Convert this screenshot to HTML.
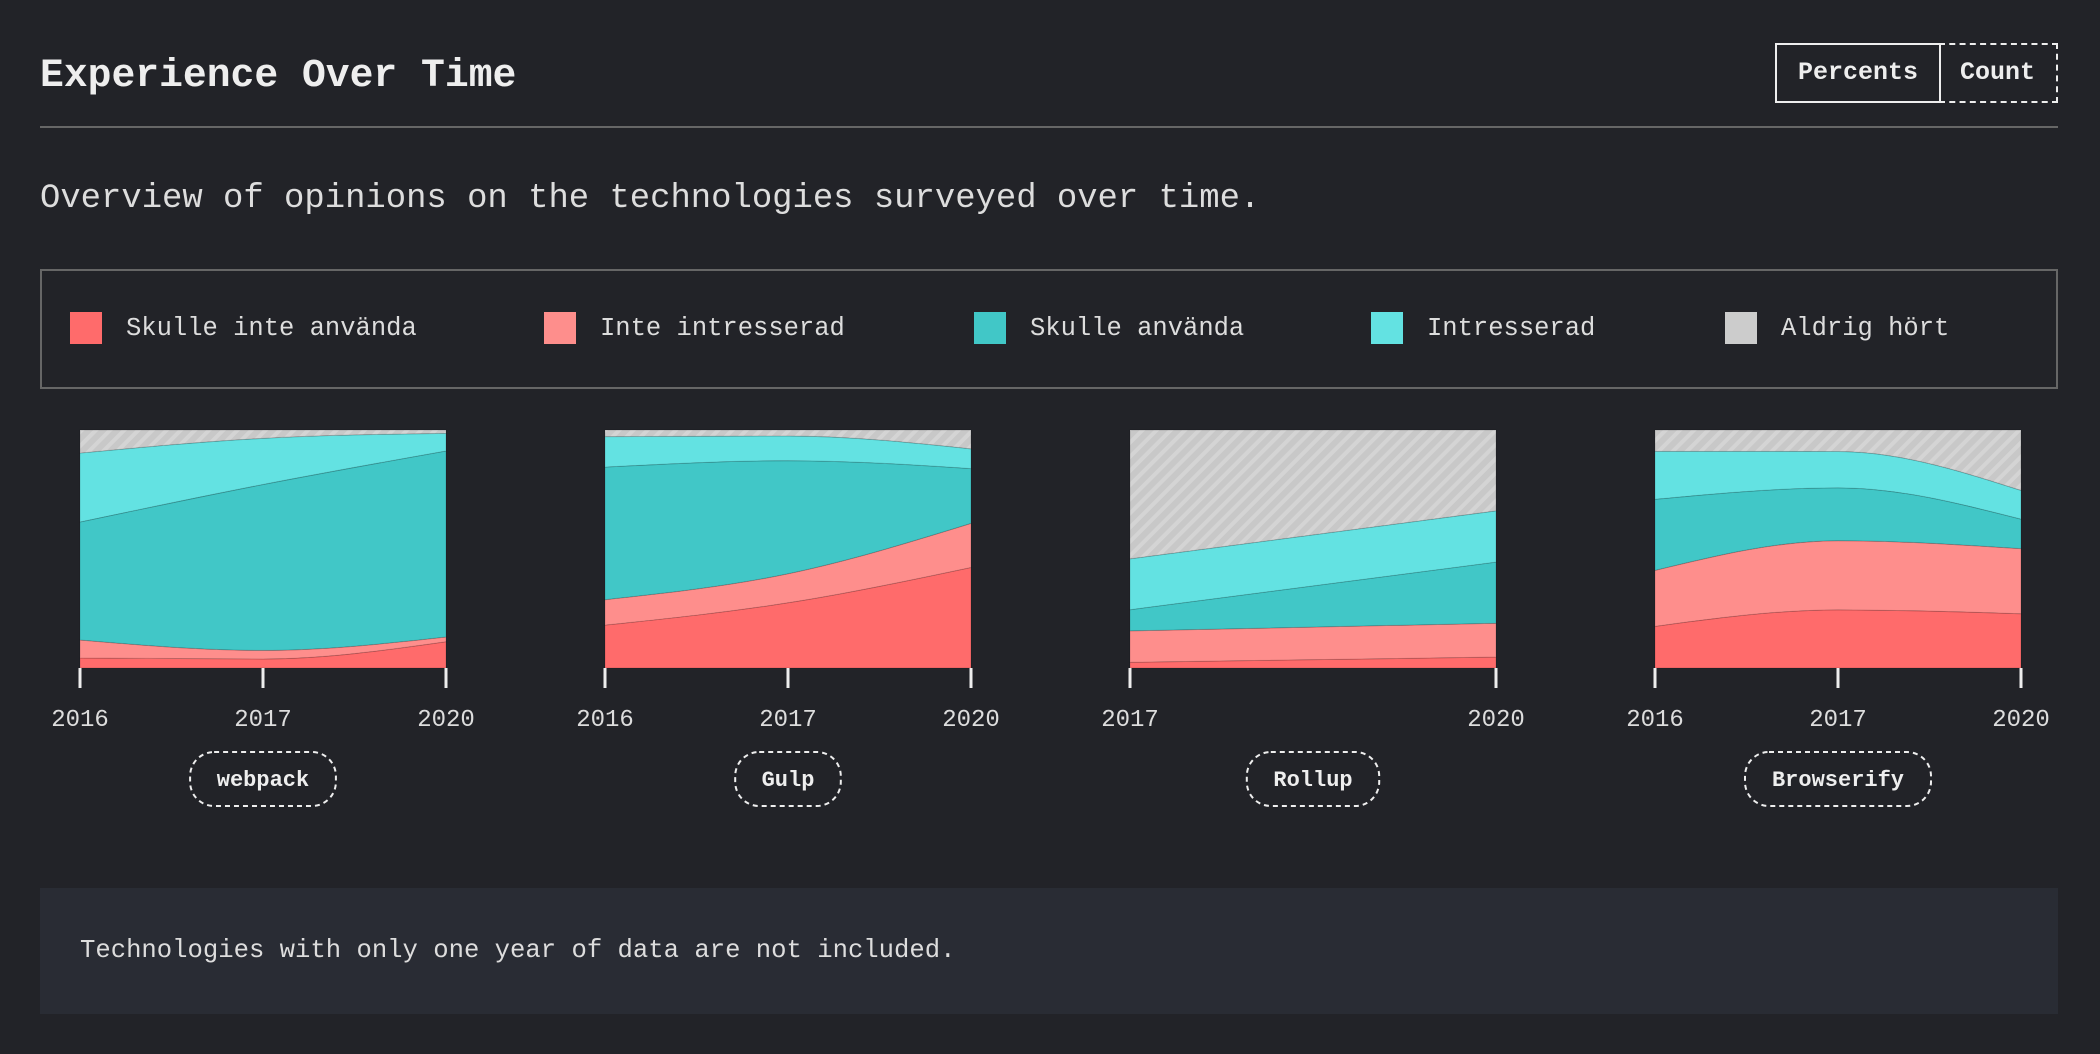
<!DOCTYPE html>
<html><head><meta charset="utf-8">
<style>
body{margin:0;background:#222328;width:2100px;height:1054px;overflow:hidden;font-family:"Liberation Mono",monospace;color:#eee;position:relative}
.abs{position:absolute}
</style></head><body>
<div class="abs" style="left:40px;top:53px;font-size:39.7px;font-weight:bold;color:#eee">Experience Over Time</div>
<div class="abs" style="left:1775px;top:43px;width:162px;height:56px;border:2px solid #eee;font-size:25px;font-weight:bold;line-height:56px;text-align:center">Percents</div>
<div class="abs" style="left:1939px;top:43px;width:117px;height:56px;border:2px dashed #eee;border-left:none;font-size:25px;font-weight:bold;line-height:56px;text-align:center">Count</div>
<div class="abs" style="left:40px;top:126px;width:2018px;height:2px;background:#666"></div>
<div class="abs" style="left:40px;top:180px;font-size:33.9px;color:#ddd">Overview of opinions on the technologies surveyed over time.</div>
<div class="abs" style="left:40px;top:269px;width:2014px;height:116px;border:2px solid #666"></div>
<div id="legend"></div>
<svg class="abs" style="left:0;top:0" width="2100" height="1054" id="svg">
<defs><pattern id="hatch" width="10" height="10" patternUnits="userSpaceOnUse" patternTransform="rotate(45)"><rect width="10" height="10" fill="#c8c8c8"/><rect width="4" height="10" fill="#d4d4d4"/></pattern></defs>
</svg>
<div class="abs" style="left:40px;top:888px;width:2018px;height:126px;background:#292c34"></div>
<div class="abs" style="left:80px;top:936px;font-size:25.6px;color:#ddd">Technologies with only one year of data are not included.</div>
<script>
const seriesNames=["Skulle inte använda","Inte intresserad","Skulle använda","Intresserad","Aldrig hört"];
const seriesColors=["#ff6b6b","#fe8e8c","#41c7c7","#63e2e2","url(#hatch)"];
const techNames=["webpack","Gulp","Rollup","Browserify"];
const techYears=[["2016","2017","2020"],["2016","2017","2020"],["2017","2020"],["2016","2017","2020"]];
const webpackValues=[[4.2,3.8,11],[7.6,3.6,2],[49.6,69.7,78],[29,19.4,7.4],[9.7,3.5,1.4]];
const gulpValues=[[18,27.4,42.2],[10.7,12.2,18.5],[55.7,47.5,23],[12.8,10.4,8.3],[2.8,2.5,7.9]];
const rollupValues=[[2.4,4.6],[13.2,14.2],[8.9,25.7],[21.4,21.5],[54.2,34]];
const browserifyValues=[[17.5,24.4,22.8],[23.5,29,27.4],[29.9,22.2,12.4],[20.1,15.3,12.1],[9,9,25.4]];
const allValues=[webpackValues,gulpValues,rollupValues,browserifyValues];

const legX=[70,544,974,1371,1725];
const leg=document.getElementById('legend');
seriesNames.forEach((n,i)=>{
  const s=document.createElement('div');
  s.className='abs';
  
  
  s.style.cssText=`left:${legX[i]}px;top:312px;width:32px;height:32px;background:${i==4?'#ccc':seriesColors[i]}`;
  leg.appendChild(s);
  const t=document.createElement('div');
  t.className='abs';
  
  
  t.style.cssText=`left:${legX[i]+56}px;top:313px;font-size:25.5px;line-height:32px;color:#ddd`;
  t.textContent=n;
  leg.appendChild(t);
});

const NS='http://www.w3.org/2000/svg';
const svg=document.getElementById('svg');
const chartLeft=[80,605,1130,1655], chartW=366, chartTop=430, chartBot=668;
function mono(pts){
  const n=pts.length;
  if(n<3) return pts.slice(1).map(p=>'L'+p[0]+','+p[1]).join('');
  const h=[],s=[],t=[];
  for(let i=0;i<n-1;i++){h.push(pts[i+1][0]-pts[i][0]);s.push((pts[i+1][1]-pts[i][1])/h[i]);}
  for(let i=1;i<n-1;i++){
    const p=(s[i-1]*h[i]+s[i]*h[i-1])/(h[i-1]+h[i]);
    t[i]=(Math.sign(s[i-1])+Math.sign(s[i]))*Math.min(Math.abs(s[i-1]),Math.abs(s[i]),0.5*Math.abs(p))||0;
  }
  t[0]=(3*s[0]-t[1])/2; t[n-1]=(3*s[n-2]-t[n-2])/2;
  let d='';
  for(let i=0;i<n-1;i++){
    const [x0,y0]=pts[i],[x1,y1]=pts[i+1],dx=h[i]/3;
    d+=`C${x0+dx},${y0+t[i]*dx} ${x1-dx},${y1-t[i+1]*dx} ${x1},${y1}`;
  }
  return d;
}
allValues.forEach((vals,ci)=>{
  const years=techYears[ci];
  const x=i=>chartLeft[ci]+i*chartW/(years.length-1);
  const y=v=>chartBot-(chartBot-chartTop)*v/100;
  const totals=years.map((_,j)=>vals.reduce((a,s)=>a+s[j],0));
  let cum=years.map(()=>0);
  vals.forEach((ser,si)=>{
    const lo=years.map((_,j)=>[x(j),y(cum[j]/totals[j]*100)]);
    cum=cum.map((c,j)=>c+ser[j]);
    const hi=years.map((_,j)=>[x(j),y(cum[j]/totals[j]*100)]);
    const lor=lo.slice().reverse();
    const d='M'+hi[0][0]+','+hi[0][1]+' '+mono(hi)+' L'+lor[0][0]+','+lor[0][1]+' '+mono(lor)+'Z';
    const p=document.createElementNS(NS,'path');
    p.setAttribute('d',d);p.setAttribute('fill',seriesColors[si]);
    p.setAttribute('stroke','rgba(0,0,0,0.15)');p.setAttribute('stroke-width','1');
    
    
    svg.appendChild(p);
  });
  years.forEach((yr,j)=>{
    const l=document.createElementNS(NS,'line');
    l.setAttribute('x1',x(j));l.setAttribute('x2',x(j));l.setAttribute('y1',chartBot);l.setAttribute('y2',chartBot+20);
    l.setAttribute('stroke','#eee');l.setAttribute('stroke-width','3');
    
    
    svg.appendChild(l);
    const t=document.createElementNS(NS,'text');
    t.setAttribute('x',x(j));t.setAttribute('y',726);t.setAttribute('text-anchor','middle');
    t.setAttribute('font-size','24');t.setAttribute('fill','#ddd');t.setAttribute('font-family','Liberation Mono, monospace');
    t.textContent=yr;
    
    
    svg.appendChild(t);
  });
  const cx=chartLeft[ci]+chartW/2, w=techNames[ci].length*13.4+52;
  const r=document.createElementNS(NS,'rect');
  r.setAttribute('x',cx-w/2);r.setAttribute('y',752);r.setAttribute('width',w);r.setAttribute('height',54);r.setAttribute('rx',24);
  r.setAttribute('fill','none');r.setAttribute('stroke','#eee');r.setAttribute('stroke-width','2');r.setAttribute('stroke-dasharray','5,4');
  
  
  svg.appendChild(r);
  const tt=document.createElementNS(NS,'text');
  tt.setAttribute('x',cx);tt.setAttribute('y',786);tt.setAttribute('text-anchor','middle');
  tt.setAttribute('font-size','22');tt.setAttribute('font-weight','bold');tt.setAttribute('fill','#eee');tt.setAttribute('font-family','Liberation Mono, monospace');
  tt.textContent=techNames[ci];
  
  
  svg.appendChild(tt);
});
</script>
</body></html>
